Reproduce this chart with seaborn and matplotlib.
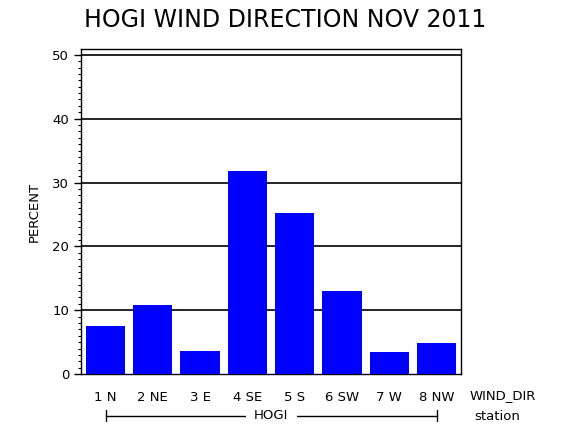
import matplotlib
matplotlib.use("Agg")
import matplotlib.pyplot as plt
import matplotlib.transforms as mtransforms
from matplotlib.ticker import MultipleLocator
import pandas as pd
import seaborn as sns

# wind direction percentages
directions = ["1 N", "2 NE", "3 E", "4 SE", "5 S", "6 SW", "7 W", "8 NW"]
percent = [7.5, 10.8, 3.6, 31.8, 25.2, 13.0, 3.5, 4.9]
station = "HOGI"

df = pd.DataFrame({"WIND_DIR": directions, "PERCENT": percent})

sns.set_style("white")
plt.rcParams["font.family"] = ["DejaVu Sans"]
plt.rcParams.update({"text.color": "black", "axes.labelcolor": "black",
                     "xtick.color": "black", "ytick.color": "black"})

fig = plt.figure(figsize=(5.7, 4.3), dpi=100)
ax = fig.add_axes([0.142, 0.130, 0.667, 0.756])

sns.barplot(data=df, x="WIND_DIR", y="PERCENT", color="#0000ff",
            saturation=1, width=0.83, ax=ax, zorder=3,
            edgecolor="none", linewidth=0)

ax.set_xlim(-0.52, len(directions) - 0.48)
ax.set_ylim(0, 50.9)
ax.yaxis.set_major_locator(MultipleLocator(10))
ax.yaxis.set_minor_locator(MultipleLocator(1))
ax.tick_params(axis="y", which="major", direction="out", length=5, width=1,
               labelsize=9.5, color="black", left=True)
ax.tick_params(axis="y", which="minor", direction="out", length=2.5, width=0.8,
               color="black", left=True)
ax.tick_params(axis="x", length=0, labelsize=9.5, pad=12)
for s in ax.spines.values():
    s.set_color("black")
    s.set_linewidth(1)

for v in range(10, 51, 10):
    ax.axhline(v, color="black", lw=1.2, zorder=1)

ax.set_xlabel("")
ax.set_ylabel("PERCENT", fontsize=9.5, labelpad=8)

# right-hand variable names
ax.text(1.022, -0.065, "WIND_DIR", transform=ax.transAxes, fontsize=9.5,
        ha="left", va="center")
ax.text(1.035, -0.13, "station", transform=ax.transAxes, fontsize=9.5,
        ha="left", va="center")

# station group line under the categories
trans = mtransforms.blended_transform_factory(ax.transData, ax.transAxes)
ax.plot([0, len(directions) - 1], [-0.128, -0.128], color="black", lw=1,
        transform=trans, clip_on=False)
for xe in [0, len(directions) - 1]:
    ax.plot([xe, xe], [-0.145, -0.111], color="black", lw=1,
            transform=trans, clip_on=False)
ax.text((len(directions) - 1) / 2, -0.128, station, transform=trans,
        fontsize=9.5, ha="center", va="center",
        bbox=dict(facecolor="white", edgecolor="none", pad=6))

fig.text(0.5, 0.953, "HOGI WIND DIRECTION NOV 2011", fontsize=17,
         ha="center", va="center")

fig.savefig("out.png", dpi=100)
